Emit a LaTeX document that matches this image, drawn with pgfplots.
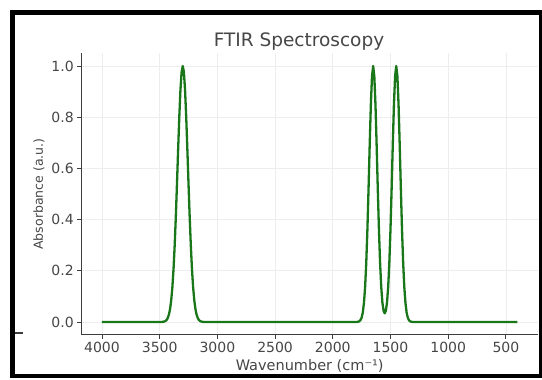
\documentclass[border=0pt]{standalone}
\usepackage{fontspec}
\setmainfont{DejaVu Sans}
\usepackage{pgfplots}
\pgfplotsset{compat=1.18}
\definecolor{spgreen}{RGB}{25,118,25}
\definecolor{txtgray}{RGB}{70,70,70}
\definecolor{spinegray}{RGB}{60,60,60}
\begin{document}
\begin{tikzpicture}[x=1pt,y=1pt]
\useasboundingbox (0,0) rectangle (542,380);
\begin{axis}[
  at={(81.2pt,45.2pt)}, anchor=south west,
  scale only axis, width=457pt, height=281.6pt,
  x dir=reverse, xmin=220, xmax=4180, ymin=-0.05, ymax=1.05,
  axis x line*=bottom, axis y line*=left,
  axis line style={-, draw=spinegray, line width=1.1pt},
  xtick={500,1000,1500,2000,2500,3000,3500,4000},
  ytick={0,0.2,0.4,0.6,0.8,1.0},
  xticklabel style={/pgf/number format/1000 sep={}},
  yticklabel style={/pgf/number format/.cd, fixed, fixed zerofill, precision=1},
  /pgf/number format/assume math mode=true,
  tick align=outside, major tick length=4pt,
  tick style={draw=spinegray, line width=0.8pt},
  grid=major, major grid style={draw=black!7, line width=0.7pt},
  ticklabel style={font=\fontsize{14}{16}\selectfont, text=txtgray},
  xlabel={Wavenumber (cm⁻¹)}, ylabel={Absorbance (a.u.)},
  xlabel style={font=\fontsize{14.5}{16}\selectfont, text=txtgray},
  ylabel style={font=\fontsize{12.5}{14}\selectfont, text=txtgray},
  clip=false,
]
\addplot[spgreen, line width=2.3pt, line join=round] coordinates {
(4000,0) (3500,0) (3490,0.0001) (3480,0.0003) (3470,0.0008) (3460,0.0018)
(3450,0.0039) (3440,0.0079) (3430,0.0154) (3420,0.0286) (3410,0.0504)
(3400,0.0847) (3390,0.1353) (3380,0.2059) (3370,0.2982) (3360,0.4111)
(3350,0.5394) (3340,0.6736) (3330,0.8007) (3320,0.9060) (3310,0.9756)
(3300,1.0000) (3290,0.9756) (3280,0.9060) (3270,0.8007) (3260,0.6736)
(3250,0.5394) (3240,0.4111) (3230,0.2982) (3220,0.2059) (3210,0.1353)
(3200,0.0847) (3190,0.0504) (3180,0.0286) (3170,0.0154) (3160,0.0079)
(3150,0.0039) (3140,0.0018) (3130,0.0008) (3120,0.0003) (3110,0.0001)
(3100,0)
(1800,0) (1790,0.0003) (1780,0.0010) (1770,0.0028) (1760,0.0072)
(1750,0.0169) (1740,0.0367) (1730,0.0734) (1720,0.1353) (1710,0.2301)
(1700,0.3604) (1690,0.5204) (1680,0.6926) (1670,0.8493) (1660,0.9600)
(1650,1.0000) (1640,0.9600) (1630,0.8493) (1620,0.6926) (1610,0.5204)
(1600,0.3605) (1590,0.2304) (1580,0.1363) (1570,0.0762) (1560,0.0439)
(1550,0.0338) (1540,0.0439) (1530,0.0762) (1520,0.1363) (1510,0.2304)
(1500,0.3605) (1490,0.5204) (1480,0.6926) (1470,0.8493) (1460,0.9600)
(1450,1.0000) (1440,0.9600) (1430,0.8493) (1420,0.6926) (1410,0.5204)
(1400,0.3604) (1390,0.2301) (1380,0.1353) (1370,0.0734) (1360,0.0367)
(1350,0.0169) (1340,0.0072) (1330,0.0028) (1320,0.0010) (1310,0.0003)
(1300,0) (400,0)
};
\end{axis}
\node[font=\fontsize{18.5}{20}\selectfont, text=txtgray] at (299,338) {FTIR Spectroscopy};
\draw[spinegray, line width=1.2pt] (15,47) -- (23,47);
\draw[black, line width=4.5pt] (12.5,4) rectangle (541,367.5);
\end{tikzpicture}
\end{document}
